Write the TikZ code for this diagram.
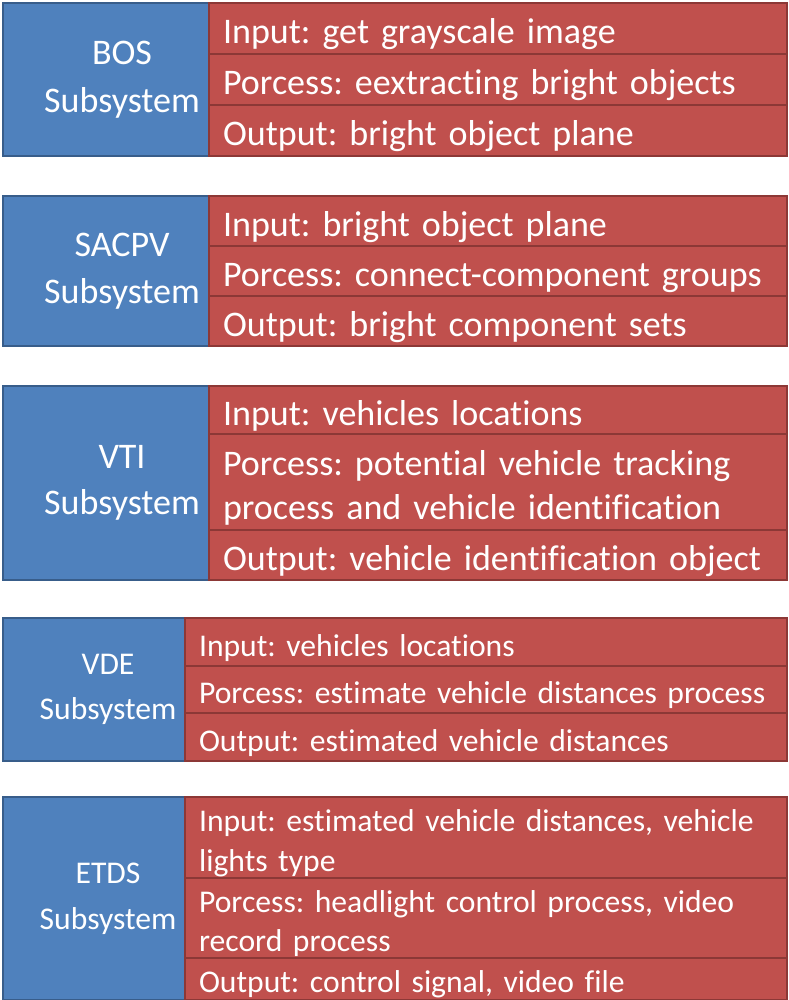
\documentclass[tikz,border=0pt]{standalone}
\usepackage{fontspec}
\setmainfont{Carlito}[Ligatures=NoCommon]
\usepackage{xcolor}
\usepackage{tikz}
\usetikzlibrary{positioning}
\frenchspacing

\definecolor{subfill}{HTML}{4F81BD}
\definecolor{subline}{HTML}{385D8A}
\definecolor{stagefill}{HTML}{C0504D}
\definecolor{stageline}{HTML}{8C3836}

\tikzset{
    subsys/.style={draw=subline, fill=subfill, line width=1.2pt, text=white, align=center, anchor=north west, inner sep=0pt},
    stage/.style={draw=stageline, fill=stagefill, line width=1.2pt, text=white, align=left, anchor=north west, inner xsep=0.28cm, inner ysep=0pt},
    bigtxt/.style={font=\fontsize{20.5}{25.5}\selectfont, text height=21pt},
    smalltxt/.style={font=\fontsize{18}{22.5}\selectfont, text height=18.8pt}
}

\begin{document}
\begin{tikzpicture}[x=0.02cm, y=-0.02cm]

    \useasboundingbox (0,0) rectangle (788,1000);

    % BOS block
    \node[subsys, minimum width=4.76cm, minimum height=3.06cm, font=\fontsize{20.5}{27.5}\selectfont] (bos) at (2,2) {BOS \\ Subsystem};
    \node[stage, bigtxt, text width=11cm, minimum height=1.02cm] (bos_in) at (208,2) {Input: get grayscale image};
    \node[stage, bigtxt, text width=11cm, minimum height=1.02cm] (bos_proc) at (208,53) {Porcess: eextracting bright objects};
    \node[stage, bigtxt, text width=11cm, minimum height=1.02cm] (bos_out) at (208,104) {Output: bright object plane};

    % SACPV block
    \node[subsys, minimum width=4.76cm, minimum height=3.0cm, font=\fontsize{20.5}{27}\selectfont] (sacpv) at (2,195) {SACPV \\ Subsystem};
    \node[stage, bigtxt, text width=11cm, minimum height=1.0cm] (sacpv_in) at (208,195) {Input: bright object plane};
    \node[stage, bigtxt, text width=11cm, minimum height=1.0cm] (sacpv_proc) at (208,245) {Porcess: connect-component groups};
    \node[stage, bigtxt, text width=11cm, minimum height=1.0cm] (sacpv_out) at (208,295) {Output: bright component sets};

    % VTI block
    \node[subsys, minimum width=4.76cm, minimum height=3.88cm, font=\fontsize{20.5}{26.5}\selectfont] (vti) at (2,385) {VTI \\ Subsystem};
    \node[stage, bigtxt, text width=11cm, minimum height=0.96cm] (vti_in) at (208,385) {Input: vehicles locations};
    \node[stage, bigtxt, text width=11cm, minimum height=1.92cm] (vti_proc) at (208,433) {Porcess: potential vehicle tracking \\ process and vehicle identification};
    \node[stage, bigtxt, text width=11cm, minimum height=1.0cm] (vti_out) at (208,529) {Output: vehicle identification object};

    % VDE block
    \node[subsys, minimum width=4.2cm, minimum height=2.86cm, font=\fontsize{18}{26}\selectfont] (vde) at (2,617) {VDE \\ Subsystem};
    \node[stage, smalltxt, text width=11.48cm, minimum height=0.96cm] (vde_in) at (184,617) {Input: vehicles locations};
    \node[stage, smalltxt, text width=11.48cm, minimum height=0.94cm] (vde_proc) at (184,665) {Porcess: estimate vehicle distances process};
    \node[stage, smalltxt, text width=11.48cm, minimum height=0.96cm] (vde_out) at (184,712) {Output: estimated vehicle distances};

    % ETDS block
    \node[subsys, minimum width=4.2cm, minimum height=4.06cm, font=\fontsize{18}{26}\selectfont] (etds) at (2,796) {ETDS \\ Subsystem};
    \node[stage, smalltxt, text width=11.48cm, minimum height=1.62cm] (etds_in) at (184,796) {Input: estimated vehicle distances, vehicle \\ lights type};
    \node[stage, smalltxt, text width=11.48cm, minimum height=1.6cm] (etds_proc) at (184,877) {Porcess: headlight control process, video \\ record process};
    \node[stage, smalltxt, text width=11.48cm, minimum height=0.84cm] (etds_out) at (184,957) {Output: control signal, video file};

\end{tikzpicture}
\end{document}
